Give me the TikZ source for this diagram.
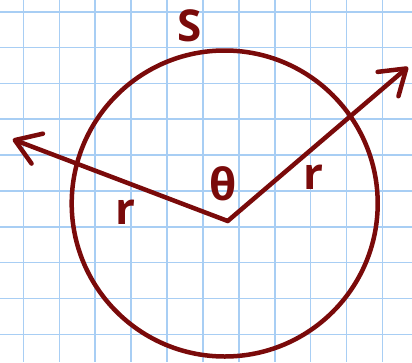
\documentclass[tikz,border=0pt]{standalone}
\usepackage{fontspec}
\setmainfont{Open Sans}
\usetikzlibrary{arrows.meta}
\definecolor{gridblue}{RGB}{168,206,244}
\definecolor{inkred}{RGB}{122,10,10}
\tikzset{
  ink/.style={draw=inkred,line width=4.5pt,line cap=round,line join=round},
  lbl/.style={text=inkred,inner sep=0pt,font=\fontsize{44}{48}\selectfont\bfseries},
  barb/.style={-{Straight Barb[length=24pt,width=32pt,line cap=round,line join=round]}}
}
\begin{document}
\begin{tikzpicture}[x=1pt,y=-1pt]
  \useasboundingbox (0,0) rectangle (412,362);
  \clip (0,0) rectangle (412,362);
  \fill[white] (0,0) rectangle (412,362);
  \foreach \x in {0,...,10}
  {
  \draw[gridblue,line width=1.6pt] (23.4+35.9*\x,0) -- (23.4+35.9*\x,362);
}
  \foreach \y in {0,...,9}
  {
  \draw[gridblue,line width=1.6pt] (0,11.7+35.85*\y) -- (412,11.7+35.85*\y);
}
\coordinate (C) at (224.7,203.5);
\coordinate (O) at (227.7,221);
\coordinate (L) at (12.7,139.3);
\coordinate (R) at (408,67);
\draw[ink] (C) circle [radius=153pt];
\draw[ink,barb] (O) -- (L);
\draw[ink,barb] (O) -- (R);
\node[lbl] (s) at (190,26) {S};
\node[lbl] (theta) at (223,184) {θ};
\node[lbl] (rl) at (125,212) {r};
\node[lbl] (rr) at (313,177) {r};
\end{tikzpicture}
\end{document}
